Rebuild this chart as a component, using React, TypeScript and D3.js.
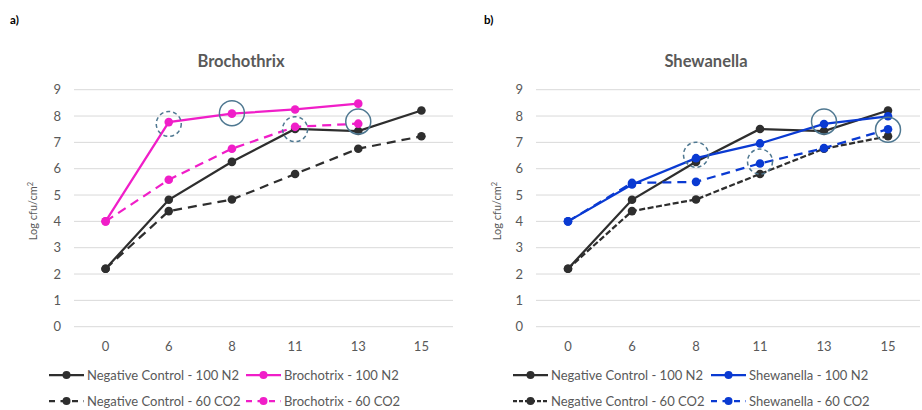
import React from "react";
import * as d3 from "d3";

const categories = ["0", "6", "8", "11", "13", "15"];
const yTicks = [0, 1, 2, 3, 4, 5, 6, 7, 8, 9];

const negControlN2 = [2.2, 4.82, 6.26, 7.51, 7.43, 8.21];
const negControlCO2 = [2.2, 4.39, 4.83, 5.8, 6.76, 7.23];
const brochothrixN2 = [4.0, 7.77, 8.09, 8.25, 8.47];
const brochothrixCO2 = [4.0, 5.58, 6.76, 7.59, 7.71];
const shewanellaN2 = [4.0, 5.4, 6.4, 6.96, 7.7, 7.99];
const shewanellaCO2 = [4.0, 5.46, 5.5, 6.2, 6.78, 7.5];

const brochoCircleCats = ["6", "8", "11", "13"];
const brochoCircleVals = [7.7, 8.11, 7.5, 7.79];
const brochoCircleDashed = [true, false, true, false];
const shewCircleCats = ["8", "11", "13", "15"];
const shewCircleVals = [6.53, 6.27, 7.79, 7.48];
const shewCircleDashed = [true, true, false, false];

const FONT = "Lato, 'Open Sans', sans-serif";
const GRAY = "#595959";
const BLACK = "#2e2e2e";
const MAGENTA = "#f01ec8";
const BLUE = "#0a3ad2";
const CIRCLE = "#4f7891";

type Series = { name: string; values: number[]; color: string; dash: string | null; legendDash: string | null };

function Panel(props: {
  x0: number; x1: number; label: string; labelX: number; title: string; titleX: number;
  tickRight: number; yLabelX: number; series: Series[];
  circleCats: string[]; circleVals: number[]; circleDashed: boolean[];
  legendX: number[];
}) {
  const { x0, x1, series } = props;
  const x = d3.scaleBand<string>().domain(categories).range([x0, x1]);
  const y = d3.scaleLinear().domain([0, 9]).range([326.7, 89.7]);
  const cx = (c: string) => (x(c) as number) + x.bandwidth() / 2;
  const line = d3.line<number>().x((_, i) => cx(categories[i])).y((d) => y(d));
  const legendRows = [375, 401];
  return (
    <g>
      <text x={props.labelX} y={24} fontFamily={FONT} fontWeight="bold" fontSize={11.5} fill="#000">{props.label}</text>
      <text x={props.titleX} y={67} textAnchor="middle" fontFamily={FONT} fontWeight="bold" fontSize={16.5} fill={GRAY}>{props.title}</text>
      {yTicks.map((t) => (
        <g key={t}>
          <line x1={x0} x2={x1} y1={y(t)} y2={y(t)} stroke="#d9d9d9" strokeWidth={1} />
          <text x={props.tickRight} y={y(t) + 4.5} textAnchor="end" fontFamily={FONT} fontSize={13} fill={GRAY}>{t}</text>
        </g>
      ))}
      {categories.map((c) => (
        <text key={c} x={cx(c)} y={350.5} textAnchor="middle" fontFamily={FONT} fontSize={13} fill={GRAY}>{c}</text>
      ))}
      <text transform={`translate(${props.yLabelX},211) rotate(-90)`} textAnchor="middle" fontFamily={FONT} fontSize={11} fill={GRAY}>
        Log cfu/cm<tspan dy={-4} fontSize={7.5}>2</tspan>
      </text>
      {series.map((s, si) => (
        <g key={si}>
          <path d={line(s.values) || ""} fill="none" stroke={s.color} strokeWidth={2.25} strokeDasharray={s.dash || undefined} />
          {s.values.map((v, i) => (
            <circle key={i} cx={cx(categories[i])} cy={y(v)} r={4.3} fill={s.color} />
          ))}
        </g>
      ))}
      {props.circleCats.map((c, i) => (
        <circle key={i} cx={cx(c)} cy={y(props.circleVals[i])} r={12.5} fill="none" stroke={CIRCLE} strokeWidth={1.5} strokeDasharray={props.circleDashed[i] ? "4,3" : undefined} />
      ))}
      {series.map((s, si) => {
        const lx = props.legendX[si % 2];
        const ly = legendRows[Math.floor(si / 2)];
        return (
          <g key={"l" + si}>
            <line x1={lx} x2={lx + 35} y1={ly} y2={ly} stroke={s.color} strokeWidth={2.25} strokeDasharray={s.legendDash || undefined} />
            <circle cx={lx + 17.5} cy={ly} r={4} fill={s.color} />
            <text x={lx + 38} y={ly + 4.6} fontFamily={FONT} fontSize={13} fill={GRAY}>{s.name}</text>
          </g>
        );
      })}
    </g>
  );
}

export default function App() {
  const leftSeries: Series[] = [
    { name: "Negative Control - 100 N2", values: negControlN2, color: BLACK, dash: null, legendDash: null },
    { name: "Brochotrix - 100 N2", values: brochothrixN2, color: MAGENTA, dash: null, legendDash: null },
    { name: "Negative Control - 60 CO2", values: negControlCO2, color: BLACK, dash: "9,6", legendDash: "6,5.5" },
    { name: "Brochotrix - 60 CO2", values: brochothrixCO2, color: MAGENTA, dash: "9,6", legendDash: "6,5.5" },
  ];
  const rightSeries: Series[] = [
    { name: "Negative Control - 100 N2", values: negControlN2, color: BLACK, dash: null, legendDash: null },
    { name: "Shewanella - 100 N2", values: shewanellaN2, color: BLUE, dash: null, legendDash: null },
    { name: "Negative Control - 60 CO2", values: negControlCO2, color: BLACK, dash: "6,2.5", legendDash: "4,2" },
    { name: "Shewanella - 60 CO2", values: shewanellaCO2, color: BLUE, dash: "9,6", legendDash: "6,5.5" },
  ];
  return (
    <svg width={922} height={410} style={{ position: "absolute", left: 0, top: 0, background: "#fff" }}>
      <rect width={922} height={410} fill="#fff" />
      <Panel x0={74} x1={453} label="a)" labelX={10} title="Brochothrix" titleX={241} tickRight={61} yLabelX={37}
        series={leftSeries} circleCats={brochoCircleCats} circleVals={brochoCircleVals} circleDashed={brochoCircleDashed}
        legendX={[49, 246]} />
      <Panel x0={536} x1={920} label="b)" labelX={484} title="Shewanella" titleX={706} tickRight={523} yLabelX={501}
        series={rightSeries} circleCats={shewCircleCats} circleVals={shewCircleVals} circleDashed={shewCircleDashed}
        legendX={[513, 711]} />
    </svg>
  );
}
